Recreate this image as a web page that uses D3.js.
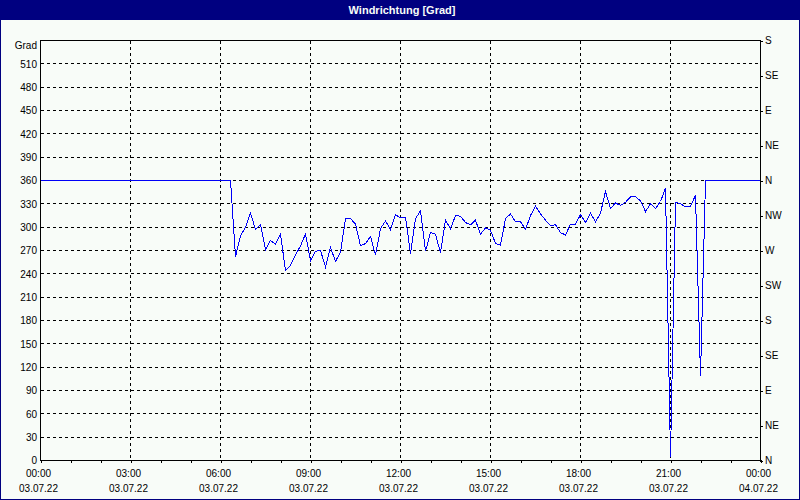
<!DOCTYPE html>
<html><head><meta charset="utf-8">
<script src="https://cdn.jsdelivr.net/npm/d3@7"></script>
<style>
html,body{margin:0;padding:0;background:#F8FCF8;}
svg{display:block;}
text{font-family:"Liberation Sans",Arial,sans-serif;font-size:10px;fill:#000;}
</style></head><body><svg id="c" width="800" height="500"></svg>
<script>
// ---------- data ----------
const chartTitle = "Windrichtung [Grad]";
const yAxisTitle = "Grad";
const yTickValues = [0,30,60,90,120,150,180,210,240,270,300,330,360,390,420,450,480,510];
const compassValues = [0,45,90,135,180,225,270,315,360,405,450,495,540];
const compassLabels = ["N","NE","E","SE","S","SW","W","NW","N","NE","E","SE","S"];
const xLabelTimes = ["00:00","03:00","06:00","09:00","12:00","15:00","18:00","21:00","00:00"];
const xLabelDates = ["03.07.22","03.07.22","03.07.22","03.07.22","03.07.22","03.07.22","03.07.22","03.07.22","04.07.22"];

// constant part before the measured samples
const leadTimes = ["2022-07-03T00:00","2022-07-03T06:20"];
const leadValues = [360, 360];
// 10-minute samples starting 06:30
const sampleStart = "2022-07-03T06:30";
const sampleStepMinutes = 10;
const sampleValues = [
 262,289,300,318,297,303,271,283,278,291,
 244,251,264,276,291,257,269,270,249,274,
 256,268,311,311,304,276,279,288,264,298,
 308,297,316,312,313,266,311,321,269,293,
 291,267,309,298,315,314,306,303,309,291,
 299,296,279,277,311,317,307,307,297,315,
 327,317,309,302,303,293,290,304,304,316,
 306,318,307,318,346,324,331,328,332,339,
 339,334,320,330,324,333,350,5,332,330,
 326,327,341,109,360
];
// constant part after the samples
const tailTimes = ["2022-07-04T00:00"];
const tailValues = [360];

// ---------- build ----------
(function(){
const parse = d3.timeParse("%Y-%m-%dT%H:%M");
const pts = [];
leadTimes.forEach((t,i)=>pts.push({t:parse(t), v:leadValues[i]}));
const s0 = parse(sampleStart);
sampleValues.forEach((v,i)=>pts.push({t:d3.timeMinute.offset(s0, i*sampleStepMinutes), v}));
tailTimes.forEach((t,i)=>pts.push({t:parse(t), v:tailValues[i]}));

const W = 800, H = 500;
const pL = 40.5, pR = 760.5, pT = 40.5, pB = 460.5;
const svg = d3.select("#c");
const navy = "#000080";

svg.append("rect").attr("x",0).attr("y",0).attr("width",W).attr("height",H).attr("fill","#F8FCF8");
// title bar
svg.append("rect").attr("x",0).attr("y",0).attr("width",W).attr("height",20).attr("fill",navy);
svg.append("text").attr("x",402).attr("y",13.5).attr("text-anchor","middle")
  .style("fill","#F8FCF8").style("font-weight","bold").style("font-size","11px").text(chartTitle);
// window border
svg.append("rect").attr("x",0.5).attr("y",0.5).attr("width",W-1).attr("height",H-1)
  .attr("fill","none").attr("stroke",navy).attr("stroke-width",1);

const x = d3.scaleTime().domain([parse("2022-07-03T00:00"), parse("2022-07-04T00:00")]).range([pL,pR]);
const y = d3.scaleLinear().domain([0,540]).range([pB,pT]);

// grid
const g = svg.append("g").attr("shape-rendering","crispEdges");
const gridHours = d3.timeHour.every(3).range(x.domain()[0], x.domain()[1]).slice(1);
g.selectAll(".vg").data(gridHours).join("line")
  .attr("x1",d=>Math.round(x(d)-0.5)+0.5).attr("x2",d=>Math.round(x(d)-0.5)+0.5)
  .attr("y1",pT).attr("y2",pB)
  .attr("stroke","#000").attr("stroke-dasharray","3,3");
g.selectAll(".hg").data(yTickValues.filter(v=>v>0)).join("line")
  .attr("x1",pL).attr("x2",pR)
  .attr("y1",d=>Math.round(y(d)-0.5)+0.5).attr("y2",d=>Math.round(y(d)-0.5)+0.5)
  .attr("stroke","#000").attr("stroke-dasharray","3,3");

// data line
const line = d3.line().x(d=>x(d.t)).y(d=>y(d.v));
svg.append("path").datum(pts).attr("d",line).attr("fill","none")
  .attr("stroke","#0000F8").attr("stroke-width",1).attr("shape-rendering","crispEdges");

// frame
svg.append("rect").attr("x",pL).attr("y",pT).attr("width",pR-pL).attr("height",pB-pT)
  .attr("fill","none").attr("stroke","#000").attr("shape-rendering","crispEdges");

// bottom axis ticks (hourly)
const xAxis = d3.axisBottom(x).ticks(d3.timeHour.every(1)).tickSize(3).tickFormat("");
const xa = svg.append("g").attr("transform",`translate(0,${pB-0.5})`).attr("shape-rendering","crispEdges").call(xAxis);
xa.select(".domain").remove();
xa.selectAll("line").attr("stroke","#000");

const labelHours = d3.timeHour.every(3).range(x.domain()[0], d3.timeMinute.offset(x.domain()[1],1));
labelHours.forEach((h,i)=>{
  svg.append("text").attr("x",x(h)-2).attr("y",477).attr("text-anchor","middle").text(xLabelTimes[i]);
  svg.append("text").attr("x",x(h)-2).attr("y",492).attr("text-anchor","middle").text(xLabelDates[i]);
});

// left axis labels
const ya = svg.append("g").attr("transform",`translate(${pL-0.5},0)`)
  .call(d3.axisLeft(y).tickValues(yTickValues).tickSize(0).tickPadding(3));
ya.select(".domain").remove();
ya.selectAll("text").style("font-size","10px").style("font-family",null);
svg.append("text").attr("x",37).attr("y",y(540)+8).attr("text-anchor","end").text(yAxisTitle);

// right compass axis
const ra = svg.append("g").attr("transform",`translate(${pR-0.5},0)`).attr("shape-rendering","crispEdges")
  .call(d3.axisRight(y).tickValues(compassValues).tickSize(3).tickPadding(2).tickFormat((d,i)=>compassLabels[i]));
ra.select(".domain").remove();
ra.selectAll("line").attr("stroke","#000");
ra.selectAll("text").style("font-size","10px").style("font-family",null);
})();
</script></body></html>
